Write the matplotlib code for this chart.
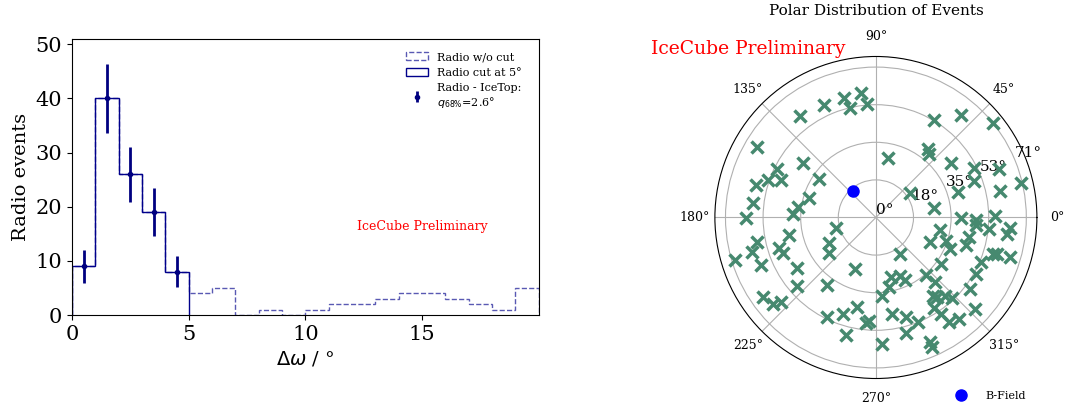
import numpy as np
import matplotlib
matplotlib.use('Agg')
import matplotlib.pyplot as plt

plt.rcParams['font.family'] = 'DejaVu Serif'

# ---------------- histogram data
bin_edges = np.arange(0, 21, 1)
counts_all = [9, 40, 26, 19, 8, 4, 5, 0, 1, 0, 1, 2, 2, 3, 4, 4, 3, 2, 1, 5]
counts_cut = [9, 40, 26, 19, 8]
cut_edges = np.arange(0, 6, 1)

# ---------------- polar data: azimuth [deg], zenith [deg]
azimuth = [97.0, 105.0, 94.5, 103.3, 114.7, 126.7, 149.4, 143.5, 153.8, 160.9,
           158.7, 164.8, 145.8, 163.9, 173.3, 172.3, 177.6, 180.4,
           195.1, 191.8, 195.4, 197.3, 200.8, 191.7, 208.6, 216.9, 196.7, 202.6,
           212.9, 248.4, 221.0, 234.3, 215.1, 220.0, 221.7, 243.8, 251.3, 258.1,
           264.8, 266.1, 255.8,
           59.3, 50.5, 38.8, 78.3, 52.9, 50.0, 35.9, 26.6, 20.3, 21.5,
           13.5, 12.2, 17.0, 35.4, 9.3,
           359.9, 358.6, 355.7, 0.8, 354.2, 355.5, 352.6, 348.7, 348.2, 343.0,
           335.2, 341.6, 337.1, 342.8, 343.3, 343.7, 303.2, 324.4, 336.8, 330.5,
           284.7, 292.4, 294.7, 280.9, 274.5, 311.1, 312.5, 322.8, 306.1, 307.9,
           311.4, 313.4, 302.7, 303.9, 317.3, 279.7, 286.7, 291.9, 304.9, 309.4,
           284.5, 272.7, 293.4, 293.3]
zenith = [59.3, 58.5, 53.6, 53.3, 58.4, 60.0, 65.3, 42.9, 51.9, 53.8,
          48.3, 58.7, 32.3, 32.7, 58.6, 36.9, 39.1, 61.4,
          19.6, 57.5, 60.8, 47.7, 47.1, 41.8, 25.1, 27.6, 69.5, 58.9,
          44.3, 26.3, 49.2, 39.4, 65.0, 63.5, 60.3, 52.6, 48.2, 43.4,
          50.1, 49.0, 57.1,
          53.5, 63.0, 71.0, 28.7, 40.4, 39.0, 43.7, 51.8, 49.6, 62.7,
          70.6, 59.9, 40.5, 20.0, 27.9,
          40.1, 47.1, 47.6, 56.4, 53.6, 63.7, 62.2, 30.8, 44.9, 44.4,
          28.1, 34.8, 37.9, 58.0, 59.5, 65.9, 20.7, 37.9, 53.9, 54.4,
          28.8, 29.8, 32.5, 33.6, 37.1, 36.0, 41.3, 55.9, 46.0, 47.3,
          49.2, 52.5, 50.7, 55.0, 63.6, 46.1, 48.9, 53.0, 60.4, 61.8,
          56.1, 59.9, 64.1, 66.4]
bfield_az = 130.3
bfield_zen = 16.6

r_ticks = [0, 17.75, 35.5, 53.25, 71]
r_ticklabels = ['0°', '18°', '35°', '53°', '71°']

fig = plt.figure(figsize=(10.67, 4.12), dpi=100)

#------------------- left: histogram
ax0 = fig.add_axes([0.0675, 0.2354, 0.4375, 0.6692])
centers = bin_edges[:-1] + 0.5
ax0.hist(centers, bins=bin_edges, weights=counts_all, histtype='step',
         color='darkblue', alpha=0.65, linestyle='--', label='Radio w/o cut')
ax0.hist(centers[:5], bins=cut_edges, weights=counts_cut, histtype='step',
         color='darkblue', label='Radio cut at 5°')
ax0.errorbar(centers[:5], counts_cut, yerr=np.sqrt(counts_cut), fmt='o', ms=3,
             color='navy', elinewidth=2,
             label='Radio - IceTop:\n$q_{68\\%}$=2.6°')
ax0.set_xlim(0, 20)
ax0.set_ylim(0, 50.9)
ax0.set_xticks([0, 5, 10, 15])
ax0.set_yticks([0, 10, 20, 30, 40, 50])
ax0.tick_params(labelsize=15)
ax0.set_xlabel(r'$\Delta \omega$ / °', fontsize=14)
ax0.set_ylabel('Radio events', fontsize=14)
ax0.text(15, 16.4, 'IceCube Preliminary', color='red', fontsize=9,
         ha='center', va='center')
ax0.legend(loc='upper right', fontsize=8, frameon=False,
           bbox_to_anchor=(0.985, 0.99))

#------------------- right: polar
ax1 = fig.add_axes([0.670, 0.0813, 0.3018, 0.7816], projection='polar')
ax1.plot(np.radians(azimuth), zenith, 'x', color='#46896f', ms=8, mew=2.5,
         linestyle='none')
ax1.plot(np.radians(bfield_az), bfield_zen, 'o', color='blue', ms=8,
         linestyle='none', label='B-Field')
ax1.set_ylim(0, 76)
ax1.set_rticks(r_ticks)
ax1.set_yticklabels(r_ticklabels, fontsize=11)
ax1.set_rlabel_position(22.5)
ax1.tick_params(axis='x', labelsize=9, pad=4)
ax1.grid(True, color='#b0b0b0')
ax1.set_title('Polar Distribution of Events', fontsize=11, pad=30)
fig.text(748 / 1067, 1 - 49.3 / 412, 'IceCube Preliminary', color='red',
         fontsize=13.5, ha='center', va='center')
fig.legend(handles=ax1.get_legend_handles_labels()[0], labels=['B-Field'],
           loc='center', bbox_to_anchor=(988 / 1067, 1 - 396 / 412),
           fontsize=8, frameon=False, handletextpad=1.2)

fig.savefig('out.png', dpi=100)
